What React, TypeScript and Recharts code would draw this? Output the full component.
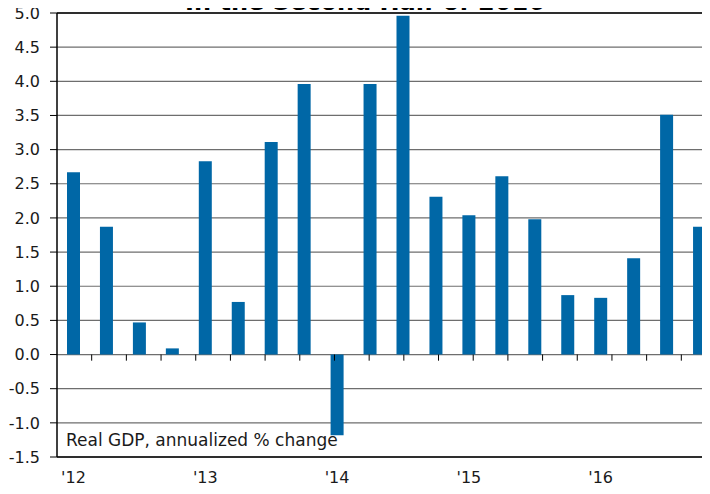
import React from "react";
import {
  Bar,
  BarChart,
  CartesianGrid,
  ReferenceLine,
  XAxis,
  YAxis,
} from "recharts";

const quarters = [
  "2012Q1", "2012Q2", "2012Q3", "2012Q4",
  "2013Q1", "2013Q2", "2013Q3", "2013Q4",
  "2014Q1", "2014Q2", "2014Q3", "2014Q4",
  "2015Q1", "2015Q2", "2015Q3", "2015Q4",
  "2016Q1", "2016Q2", "2016Q3", "2016Q4",
];

const gdpGrowth = [
  2.67, 1.87, 0.47, 0.09,
  2.83, 0.77, 3.11, 3.96,
  -1.18, 3.96, 4.96, 2.31,
  2.04, 2.61, 1.98, 0.87,
  0.83, 1.41, 3.51, 1.87,
];

const yearLabels: Record<string, string> = {
  "2012Q1": "'12",
  "2013Q1": "'13",
  "2014Q1": "'14",
  "2015Q1": "'15",
  "2016Q1": "'16",
};

const yTicks = [-1.5, -1.0, -0.5, 0, 0.5, 1.0, 1.5, 2.0, 2.5, 3.0, 3.5, 4.0, 4.5, 5.0];

const title = "In the Second Half of 2016";
const note = "Real GDP, annualized % change";

const FONT = "'DejaVu Sans', Verdana, sans-serif";
const BLUE = "#0067a6";

export default function App() {
  const data = quarters.map((q, i) => ({ quarter: q, gdp: gdpGrowth[i] }));
  // boundaries between quarters, for the little ticks on the zero line
  const boundaries = quarters.slice(1).map((_, i) => i + 1);

  return (
    <div
      style={{
        position: "relative",
        width: 710,
        height: 494,
        margin: -8,
        overflow: "hidden",
        background: "#fff",
        fontFamily: FONT,
      }}
    >
      <BarChart
        width={716}
        height={494}
        data={data}
        margin={{ top: 13, right: 0, left: 0, bottom: 0 }}
        barCategoryGap={0}
      >
        <CartesianGrid vertical={false} stroke="#6e6e6e" strokeWidth={1.2} />
        <XAxis
          dataKey="quarter"
          interval={0}
          height={37}
          tickLine={false}
          axisLine={{ stroke: "#000", strokeWidth: 1.5 }}
          tick={{ fontSize: 16, fill: "#1a1a1a", fontFamily: FONT }}
          tickMargin={9}
          tickFormatter={(q: string) => yearLabels[q] ?? ""}
        />
        <XAxis
          xAxisId="grid"
          type="number"
          domain={[0, quarters.length]}
          allowDataOverflow
          hide
        />
        <YAxis
          width={57}
          domain={[-1.5, 5]}
          ticks={yTicks}
          interval={0}
          allowDataOverflow
          tickSize={7}
          tickMargin={10}
          tickLine={{ stroke: "#000" }}
          axisLine={{ stroke: "#000", strokeWidth: 1.5 }}
          tick={{ fontSize: 16, fill: "#1a1a1a", fontFamily: FONT }}
          tickFormatter={(v: number) => v.toFixed(1)}
        />
        <ReferenceLine y={5} stroke="#000" strokeWidth={1.5} />
        {boundaries.map((b) => (
          <ReferenceLine
            key={b}
            xAxisId="grid"
            segment={[
              { x: b, y: 0 },
              { x: b, y: -0.09 },
            ]}
            stroke="#000"
            strokeWidth={1}
          />
        ))}
        <Bar dataKey="gdp" fill={BLUE} barSize={13} isAnimationActive={false} />
      </BarChart>
      <svg
        width={710}
        height={494}
        style={{ position: "absolute", left: 0, top: 0, pointerEvents: "none" }}
      >
        <text
          x={365}
          y={10}
          textAnchor="middle"
          fontSize={24}
          fontWeight="bold"
          fill="#000"
          fontFamily={FONT}
        >
          {title}
        </text>
        <text x={66} y={446} fontSize={17} fill="#1a1a1a" fontFamily={FONT}>
          {note}
        </text>
      </svg>
    </div>
  );
}
